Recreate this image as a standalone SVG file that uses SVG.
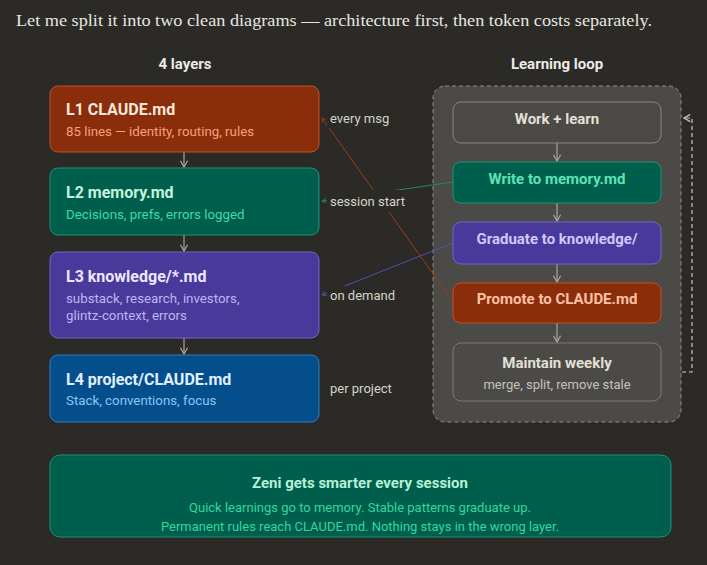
<svg xmlns="http://www.w3.org/2000/svg" width="707" height="565" viewBox="0 0 707 565">
<style>
  .t{font-family:Roboto,"Liberation Sans",sans-serif;font-size:15px;font-weight:700}
  .tl{font-family:Roboto,"Liberation Sans",sans-serif;font-size:16px;font-weight:700}
  .s{font-family:Roboto,"Liberation Sans",sans-serif;font-size:13px}
  .sl{font-family:Roboto,"Liberation Sans",sans-serif;font-size:13.3px}
  .lbl{font-family:Roboto,"Liberation Sans",sans-serif;font-size:13px;fill:#d6d3cb}
  .arr{stroke:#a8a59e;stroke-width:1.2;fill:none;marker-end:url(#chev)}
  .bg{fill:#2b2a26}
</style>
<defs>
  <marker id="chev" viewBox="0 0 10 10" refX="9" refY="5" markerWidth="9" markerHeight="9" markerUnits="userSpaceOnUse" orient="auto">
    <path d="M2,1 L9,5 L2,9" fill="none" stroke="#a8a59e" stroke-width="1.4"/>
  </marker>
  <marker id="chevL" viewBox="0 0 10 10" refX="9" refY="5" markerWidth="9" markerHeight="9" markerUnits="userSpaceOnUse" orient="auto">
    <path d="M2,1 L9,5 L2,9" fill="none" stroke="#c8c5bd" stroke-width="1.4"/>
  </marker>
  <marker id="mr" viewBox="0 0 10 10" refX="9" refY="5" markerWidth="6" markerHeight="6" markerUnits="userSpaceOnUse" orient="auto">
    <path d="M2,1 L9,5 L2,9" fill="none" stroke="#9a3a1e" stroke-width="1.5"/>
  </marker>
  <marker id="mg" viewBox="0 0 10 10" refX="9" refY="5" markerWidth="6" markerHeight="6" markerUnits="userSpaceOnUse" orient="auto">
    <path d="M2,1 L9,5 L2,9" fill="none" stroke="#1d8a70" stroke-width="1.5"/>
  </marker>
  <marker id="mp" viewBox="0 0 10 10" refX="9" refY="5" markerWidth="6" markerHeight="6" markerUnits="userSpaceOnUse" orient="auto">
    <path d="M2,1 L9,5 L2,9" fill="none" stroke="#5a4cb0" stroke-width="1.5"/>
  </marker>
</defs>
<rect width="707" height="565" fill="#2b2a26"/>
<text x="16" y="26" font-family="'Liberation Serif',serif" font-size="17.5" fill="#e8e6e0" textLength="636" lengthAdjust="spacingAndGlyphs">Let me split it into two clean diagrams — architecture first, then token costs separately.</text>
<text x="185" y="69" text-anchor="middle" class="t" font-size="14" fill="#ecebe6">4 layers</text>
<text x="557" y="69" text-anchor="middle" class="t" font-size="14" fill="#ecebe6">Learning loop</text>

<g id="loop-panel">
  <rect x="433" y="86" width="248" height="336" rx="12" fill="#4b4a46" stroke="#8f8d86" stroke-dasharray="4 3"/>
</g>

<g id="connectors">
  <line x1="184" y1="152" x2="184" y2="167" class="arr"/>
  <line x1="184" y1="235" x2="184" y2="251" class="arr"/>
  <line x1="184" y1="338" x2="184" y2="354" class="arr"/>
  <line x1="557" y1="143" x2="557" y2="161" class="arr"/>
  <line x1="557" y1="203" x2="557" y2="221" class="arr"/>
  <line x1="557" y1="264" x2="557" y2="282" class="arr"/>
  <line x1="557" y1="323" x2="557" y2="342" class="arr"/>
  <path d="M682,372 H692 V118 H684" fill="none" stroke="#c8c5bd" stroke-width="1.2" stroke-dasharray="4 3" marker-end="url(#chevL)"/>
  <line x1="453" y1="302" x2="322" y2="118" stroke="#9a3a1e" stroke-width="1" marker-end="url(#mr)"/>
  <line x1="453" y1="182" x2="322" y2="201" stroke="#1d8a70" stroke-width="1" marker-end="url(#mg)"/>
  <line x1="453" y1="243" x2="322" y2="295" stroke="#5a4cb0" stroke-width="1" marker-end="url(#mp)"/>
</g>

<g id="labels">
  <rect class="bg" x="327" y="107" width="68" height="21"/>
  <text x="330" y="123" class="lbl">every msg</text>
  <rect class="bg" x="327" y="190" width="86" height="22"/>
  <text x="330" y="206" class="lbl">session start</text>
  <rect class="bg" x="327" y="286" width="72" height="21"/>
  <text x="330" y="300" class="lbl">on demand</text>
  <text x="330" y="393" class="lbl">per project</text>
</g>

<g id="L1">
  <rect x="50" y="86" width="269" height="66" rx="8" fill="#8a2d0b" stroke="#c0522a"/>
  <text x="66" y="115" class="tl" fill="#fde8dc">L1 CLAUDE.md</text>
  <text x="66" y="136" class="sl" fill="#f5a07e">85 lines — identity, routing, rules</text>
</g>
<g id="L2">
  <rect x="50" y="168" width="269" height="67" rx="8" fill="#005e4c" stroke="#1d9477"/>
  <text x="66" y="198" class="tl" fill="#c6f2df">L2 memory.md</text>
  <text x="66" y="219" class="sl" fill="#3ddcaa">Decisions, prefs, errors logged</text>
</g>
<g id="L3">
  <rect x="50" y="252" width="269" height="86" rx="8" fill="#48399a" stroke="#7565c8"/>
  <text x="66" y="282" class="tl" fill="#ece8ff">L3 knowledge/*.md</text>
  <text x="66" y="303" class="sl" fill="#c0b5f0">substack, research, investors,</text>
  <text x="66" y="320" class="sl" fill="#c0b5f0">glintz-context, errors</text>
</g>
<g id="L4">
  <rect x="50" y="355" width="269" height="67" rx="8" fill="#054e8c" stroke="#2f7cc4"/>
  <text x="66" y="385" class="tl" fill="#e0efff">L4 project/CLAUDE.md</text>
  <text x="66" y="405" class="sl" fill="#86c8f5">Stack, conventions, focus</text>
</g>

<g id="work">
  <rect x="453" y="102" width="208" height="41" rx="8" fill="#4b4a46" stroke="#8a8780"/>
  <text x="557" y="124" text-anchor="middle" class="t" fill="#e3e0d8">Work + learn</text>
</g>
<g id="write">
  <rect x="453" y="162" width="208" height="41" rx="8" fill="#005e4c" stroke="#1d9477"/>
  <text x="557" y="184" text-anchor="middle" class="t" fill="#5de3b4">Write to memory.md</text>
</g>
<g id="graduate">
  <rect x="453" y="222" width="208" height="42" rx="8" fill="#48399a" stroke="#7565c8"/>
  <text x="557" y="244" text-anchor="middle" class="t" fill="#d0c8ff">Graduate to knowledge/</text>
</g>
<g id="promote">
  <rect x="453" y="283" width="208" height="40" rx="8" fill="#8a2d0b" stroke="#c0522a"/>
  <text x="557" y="304" text-anchor="middle" class="t" fill="#fcc0a5">Promote to CLAUDE.md</text>
</g>
<g id="maintain">
  <rect x="453" y="343" width="208" height="58" rx="8" fill="#4b4a46" stroke="#7d7b74"/>
  <text x="557" y="368" text-anchor="middle" class="t" fill="#e3e0d8">Maintain weekly</text>
  <text x="557" y="389" text-anchor="middle" class="s" fill="#c5c2ba">merge, split, remove stale</text>
</g>

<g id="summary">
  <rect x="50" y="455" width="621" height="82" rx="10" fill="#005e4c" stroke="#1d9477"/>
  <text x="360" y="488" text-anchor="middle" class="t" fill="#b5f0d6">Zeni gets smarter every session</text>
  <text x="360" y="512" text-anchor="middle" class="s" fill="#34d6a2">Quick learnings go to memory. Stable patterns graduate up.</text>
  <text x="360" y="531" text-anchor="middle" class="s" fill="#34d6a2">Permanent rules reach CLAUDE.md. Nothing stays in the wrong layer.</text>
</g>
</svg>
